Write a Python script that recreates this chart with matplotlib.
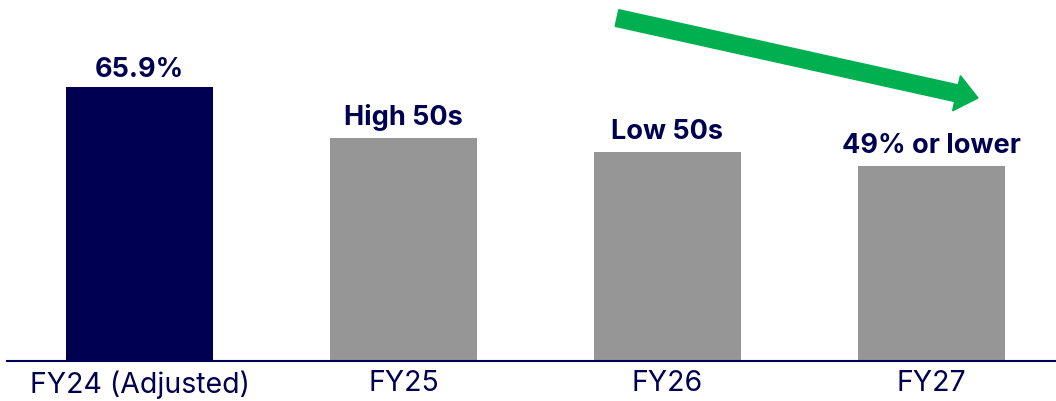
import matplotlib.pyplot as plt
from matplotlib.patches import FancyArrow

plt.rcParams["font.family"] = ["Inter", "DejaVu Sans"]

# Gross margin outlook by fiscal year
categories = ["FY24 (Adjusted)", "FY25", "FY26", "FY27"]
margins = [65.9, 53.6, 50.25, 46.9]
bar_labels = ["65.9%", "High 50s", "Low 50s", "49% or lower"]

navy = "#000050"
grey = "#969696"
green = "#00B050"
bar_colors = [navy, grey, grey, grey]

fig = plt.figure(figsize=(10.56, 4.01), dpi=100)
ax = fig.add_axes([7 / 1056, 40.3 / 401, 1 - 7 / 1056, 360.7 / 401])

x = range(len(categories))
bars = ax.bar(x, margins, width=0.557, color=bar_colors)

# value text sits just above each bar
pads = [10, 13, 13, 13]
for b, lab, pad in zip(bars, bar_labels, pads):
    ax.annotate(lab, (b.get_x() + b.get_width() / 2, b.get_height()),
                xytext=(0, pad * 0.72), textcoords="offset points",
                ha="center", va="baseline", fontsize=19.5,
                fontweight="bold", color=navy)

ax.set_xlim(-0.5019, 3.4716)
ax.set_ylim(0, 86.85)
ax.set_xticks(list(x))
ax.set_xticklabels(categories, fontsize=20.5, color=navy)
ax.tick_params(axis="x", length=0, pad=7)
ax.set_yticks([])
for side in ["top", "right", "left"]:
    ax.spines[side].set_visible(False)
ax.spines["bottom"].set_color(navy)
ax.spines["bottom"].set_linewidth(1.5)

# downward trend arrow across the top right
arrow = FancyArrow(6.17, 3.83, 3.61, -0.80, width=0.17, head_width=0.36,
                   head_length=0.22, length_includes_head=True,
                   color=green, transform=fig.dpi_scale_trans)
fig.add_artist(arrow)

fig.savefig("out.png", dpi=100)
